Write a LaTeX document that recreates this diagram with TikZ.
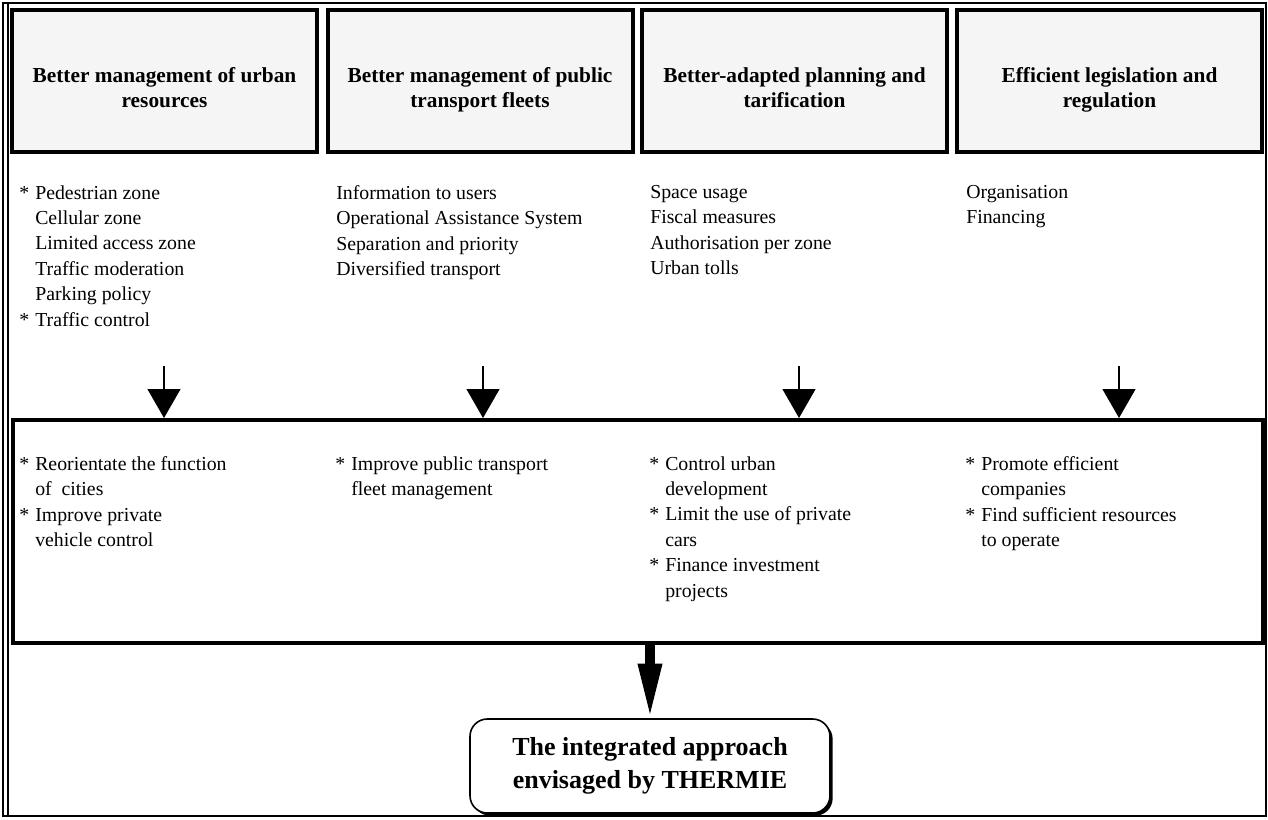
\documentclass[tikz,border=0pt]{standalone}
\usepackage{fontspec}
\setmainfont{Liberation Serif}
\usepackage{tikz}
\usetikzlibrary{arrows.meta,positioning,shapes,shadows,calc}

\newcommand{\starmark}{\makebox[0pt][r]{*\hspace{0.3em}}}

\begin{document}
\begin{tikzpicture}[x = .75pt, y = -.75pt,
    headbox/.style = {draw, line width = 3pt, fill = black!4, minimum width = 228.75pt,
      minimum height = 106.5pt},
    headtext/.style = {align = center, font = \fontsize{16pt}{18.75pt}\selectfont\bfseries,
      execute at begin node = \strut, execute at end node = \strut},
    listtext/.style = {anchor = north west, inner sep = 0pt, align = left,
      font = \fontsize{14.85pt}{19.1pt}\selectfont},
    smallarrow/.style = {-{Triangle[length = 21.75pt, width = 24.75pt]}, line width = .9pt},
    bigarrow/.style = {-{Triangle[length = 41pt, width = 16.5pt]}, line width = 7pt}]
    \useasboundingbox (0,0) rectangle (1268,819);
    % outer frame
    \draw[line width = 1.1pt] (3,3) rectangle (1266,816);
    \draw[line width = 1.1pt] (8,3) -- (8,816);
    % headers
    \node[headbox] (h1) at (164.5,81) {};
    \node[headbox] (h2) at (480,81) {};
    \node[headbox] (h3) at (794.5,81) {};
    \node[headbox] (h4) at (1109.5,81) {};
    \node[headtext] (t1) at ($(h1)+(0,10)$) {Better management of urban\\resources};
    \node[headtext] (t2) at ($(h2)+(0,10)$) {Better management of public\\transport fleets};
    \node[headtext] (t3) at ($(h3)+(0,10)$) {Better-adapted planning and\\tarification};
    \node[headtext] (t4) at ($(h4)+(0,10)$) {Efficient legislation and\\regulation};
    % measures
    \node[listtext] (m1) at (35,185) {\starmark Pedestrian zone\\Cellular zone\\Limited access zone\\Traffic moderation\\Parking policy\\\starmark Traffic control};
    \node[listtext] (m2) at (336,185) {Information to users\\Operational Assistance System\\Separation and priority\\Diversified transport};
    \node[listtext] (m3) at (650,185) {Space usage\\Fiscal measures\\Authorisation per zone\\Urban tolls};
    \node[listtext] (m4) at (966,185) {Organisation\\Financing};
    % objectives
    \node[draw, line width = 3pt, minimum width = 937.5pt, minimum height = 167.25pt] (low) at (638,531.5) {};
    \node[listtext] (o1) at (35,456) {\starmark Reorientate the function\\of~ cities\\\starmark Improve private\\vehicle control};
    \node[listtext] (o2) at (351,456) {\starmark Improve public transport\\fleet management};
    \node[listtext] (o3) at (665,456) {\starmark Control urban\\development\\\starmark Limit the use of private\\cars\\\starmark Finance investment\\projects};
    \node[listtext] (o4) at (981,456) {\starmark Promote efficient\\companies\\\starmark Find sufficient resources\\to operate};
    % arrows into objectives
    \coordinate (s1) at (164,366);
    \coordinate (s2) at (483,366);
    \coordinate (s3) at (799,366);
    \coordinate (s4) at (1119,366);
    \foreach \i in {1,...,4}
      \draw[smallarrow] (s\i) -- (s\i |- low.north);
    % result
    \node[draw, line width = 1.2pt, fill = white, rounded corners = 13pt, minimum width = 270pt,
      minimum height = 70.5pt, align = center, font = \fontsize{19.5pt}{25pt}\selectfont\bfseries,
      drop shadow = {shadow xshift = 2pt, shadow yshift = -2pt, fill = black, opacity = 1}]
      (goal) at (650,766) {The integrated approach\\envisaged by THERMIE};
    \draw[bigarrow] (goal.north |- low.south) -- (goal.north);
\end{tikzpicture}
\end{document}
